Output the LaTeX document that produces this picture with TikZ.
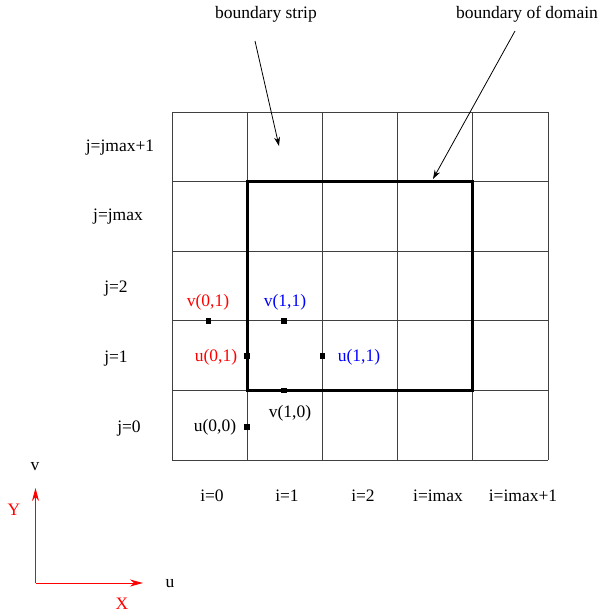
\documentclass[tikz,border=0pt]{standalone}
\usepackage{fontspec}
\setmainfont{Liberation Serif}
\usetikzlibrary{arrows.meta}
\definecolor{lblred}{RGB}{255,0,0}
\definecolor{lblblue}{RGB}{0,0,255}
\tikzset{
  lbl/.style={inner sep=0pt, font=\fontsize{17.5}{20}\selectfont},
  gridline/.style={draw=black!75, line width=1pt},
  domainbox/.style={draw=black, line width=3pt, line cap=rect},
  pointer/.style={draw=black, line width=0.8pt, -{Stealth[length=9pt,width=6pt]}},
  axisarrow/.style={draw=lblred, line width=1pt, -{Stealth[length=13pt,width=7pt,inset=4pt]}},
  marksq/.style={fill=black, draw=none, minimum size=5.5pt, inner sep=0pt},
}
\begin{document}
\begin{tikzpicture}[x=1pt,y=-1pt]
\useasboundingbox (0,0) rectangle (605,614);
% grid
\foreach \x in {172,247.2,322.4,397.6,472.8,548} {
  \draw[gridline] (\x,112) -- (\x,460);
}
\foreach \y in {112,181.6,251.2,320.8,390.4,460} {
  \draw[gridline] (172,\y) -- (548,\y);
}
% domain boundary
\draw[domainbox] (247.2,181.6) rectangle (472.8,390.4);
% labels top
\node[lbl] (bs) at (266,14) {boundary strip};
\node[lbl] (bd) at (527,14) {boundary of domain};
\coordinate (bsend) at (279,146);
\coordinate (bdend) at (433,179);
\draw[pointer] (255,41) -- (bsend);
\draw[pointer] (515,31) -- (bdend);
% j labels
\node[lbl] (j5) at (120,148) {j=jmax+1};
\node[lbl] (j4) at (118,217) {j=jmax};
\node[lbl] (j2) at (116,289) {j=2};
\node[lbl] (j1) at (116,359) {j=1};
\node[lbl] (j0) at (129,429) {j=0};
% i labels
\node[lbl] (i0) at (212,496) {i=0};
\node[lbl] (i1) at (287,496) {i=1};
\node[lbl] (i2) at (363,496) {i=2};
\node[lbl] (i3) at (438,496) {i=imax};
\node[lbl] (i4) at (523,496) {i=imax+1};
% points
\node[marksq] (pv01) at (208.5,320.8) {};
\node[marksq] (pv11) at (284,320.8) {};
\node[marksq] (pu01) at (247.2,356) {};
\node[marksq] (pu11) at (322.4,356) {};
\node[marksq] (pv10) at (284,390.4) {};
\node[marksq] (pu00) at (247.2,427) {};
% point labels
\node[lbl, text=lblred] (tv01) at (208,302) {v(0,1)};
\node[lbl, text=lblblue] (tv11) at (285,302) {v(1,1)};
\node[lbl, text=lblred] (tu01) at (216,357) {u(0,1)};
\node[lbl, text=lblblue] (tu11) at (359,357) {u(1,1)};
\node[lbl] (tv10) at (290,413) {v(1,0)};
\node[lbl] (tu00) at (215,427) {u(0,0)};
% axes
\coordinate (O) at (35.5,583);
\coordinate (Yend) at (35.5,488);
\coordinate (Xend) at (143,583);
\draw[axisarrow] (O) -- (Yend);
\draw[axisarrow] (O) -- (Xend);
\node[lbl] (v) at (35,467) {v};
\node[lbl] (u) at (170,584) {u};
\node[lbl, text=lblred] (Y) at (14,510) {Y};
\node[lbl, text=lblred] (X) at (122,604) {X};
\end{tikzpicture}
\end{document}
